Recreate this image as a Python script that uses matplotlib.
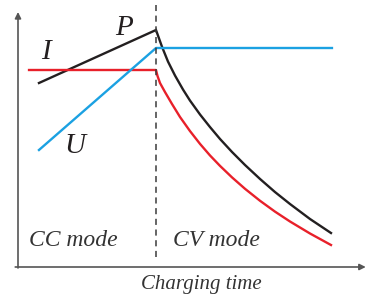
import matplotlib
matplotlib.use("Agg")
import matplotlib.pyplot as plt

# ---- data (arbitrary units) ----
p_cc_t = [0.152, 1.0]
p_cc_v = [1.84, 2.37]
p_cv_t = [1.0, 1.043, 1.087, 1.138, 1.196, 1.246, 1.319, 1.391, 1.464, 1.551,
          1.645, 1.754, 1.862, 1.971, 2.116, 2.268]
p_cv_v = [2.37, 2.204, 2.054, 1.914, 1.774, 1.665, 1.525, 1.40, 1.28, 1.15,
          1.02, 0.88, 0.75, 0.63, 0.48, 0.34]

i_cc_t = [0.08, 1.0]
i_cc_v = [1.97, 1.97]
i_cv_t = [1.0, 1.011, 1.029, 1.065, 1.116, 1.174, 1.246, 1.319, 1.391, 1.464,
          1.551, 1.645, 1.754, 1.862, 1.971, 2.116, 2.268]
i_cv_v = [1.97, 1.91, 1.84, 1.75, 1.63, 1.50, 1.36, 1.231, 1.116, 1.011,
          0.896, 0.782, 0.662, 0.554, 0.455, 0.335, 0.22]

u_t = [0.152, 1.0, 2.275]
u_v = [1.17, 2.19, 2.19]

t_switch = 1.0
mode_labels = ["CC mode", "CV mode"]
xlabel = "Charging time"

# ---- figure ----
fig = plt.figure(figsize=(3.68, 2.98), dpi=100)
ax = fig.add_axes([0, 0, 1, 1])
ax.set_xlim(-18 / 138, 350 / 138)
ax.set_ylim(-0.31, 2.67)
ax.axis("off")

lw = 1.7
red = "#e8202a"
blue = "#1ba1e2"
black = "#231f20"

ax.plot(p_cc_t + p_cv_t[1:], p_cc_v + p_cv_v[1:], color=black, lw=lw, solid_joinstyle="miter")
ax.plot(i_cc_t + i_cv_t[1:], i_cc_v + i_cv_v[1:], color=red, lw=lw, solid_joinstyle="round")
ax.plot(u_t, u_v, color=blue, lw=lw)

# dashed divider
ax.plot([t_switch, t_switch], [0.10, 2.62], color="#3a3a3a", lw=1.1, ls=(0, (4, 3)))

# axes arrows
axis_col = "#555555"
ax.annotate("", xy=(0, 2.55), xytext=(0, -0.01),
            arrowprops=dict(arrowstyle="-|>", color=axis_col, lw=1.2, mutation_scale=9, shrinkA=0, shrinkB=0))
ax.annotate("", xy=(2.52, 0), xytext=(-0.02, 0),
            arrowprops=dict(arrowstyle="-|>", color=axis_col, lw=1.2, mutation_scale=9, shrinkA=0, shrinkB=0))

serif = ["Liberation Serif", "DejaVu Serif"]
tc = "#231f20"
ax.text(0.20, 2.15, "I", fontsize=21, style="italic", family=serif, color=tc, ha="center", va="center")
ax.text(0.77, 2.39, "P", fontsize=21, style="italic", family=serif, color=tc, ha="center", va="center")
ax.text(0.41, 1.21, "U", fontsize=21, style="italic", family=serif, color=tc, ha="center", va="center")

ax.text(0.40, 0.26, mode_labels[0], fontsize=17, style="italic", family=serif, color="#333333", ha="center", va="center")
ax.text(1.44, 0.26, mode_labels[1], fontsize=17, style="italic", family=serif, color="#333333", ha="center", va="center")
ax.text(1.325, -0.18, xlabel, fontsize=15, style="italic", family=serif, color="#333333", ha="center", va="center")

fig.savefig("out.png", dpi=100)
